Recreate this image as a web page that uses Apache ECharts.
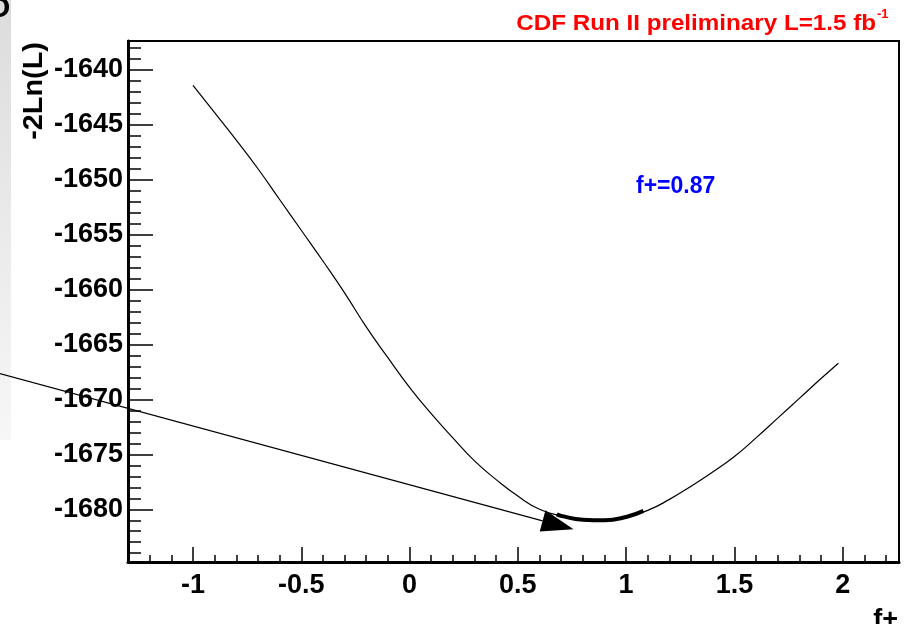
<!DOCTYPE html>
<html>
<head>
<meta charset="utf-8">
<script src="https://cdn.jsdelivr.net/npm/echarts@6/dist/echarts.min.js"></script>
<style>html,body{margin:0;padding:0;background:#fff}#c{width:909px;height:624px}</style>
</head>
<body>
<div id="c"></div>
<script>
// ---- data ----
const fPlus = [-1.0,-0.9,-0.8,-0.7,-0.6,-0.5,-0.4,-0.3,-0.2,-0.1,0.0,0.1,0.2,0.3,0.4,0.5,0.6,0.7,0.8,0.9,1.0,1.1,1.2,1.3,1.4,1.5,1.6,1.7,1.8,1.9,1.98];
const negTwoLnL = [-1641.4,-1643.9,-1646.4,-1649.0,-1651.8,-1654.6,-1657.4,-1660.3,-1663.4,-1666.2,-1668.9,-1671.3,-1673.5,-1675.6,-1677.3,-1678.8,-1680.0,-1680.6,-1680.95,-1681.0,-1680.7,-1680.1,-1679.1,-1677.9,-1676.6,-1675.2,-1673.5,-1671.7,-1669.9,-1668.1,-1666.7];
const bandF = [0.68,0.7,0.8,0.9,1.0,1.08];
const bandL = [-1680.45,-1680.6,-1680.95,-1681.0,-1680.7,-1680.15];
const arrowFrom = [-1.894, -1667.64];
const arrowTo = [0.757, -1681.82];
const xMajorTicks = [-1,-0.5,0,0.5,1,1.5,2];
const xMinorTicks = [-1.2,-1.1,-0.9,-0.8,-0.7,-0.6,-0.4,-0.3,-0.2,-0.1,0.1,0.2,0.3,0.4,0.6,0.7,0.8,0.9,1.1,1.2,1.3,1.4,1.6,1.7,1.8,1.9,2.1,2.2];
const yMajorTicks = [-1680,-1675,-1670,-1665,-1660,-1655,-1650,-1645,-1640];
const yMinorTicks = [];
for (let v = -1684; v <= -1638; v++) if (v % 5 !== 0) yMinorTicks.push(v);
const xRange = [-1.3, 2.26];
const yRange = [-1684.8, -1637.37];
const titleText = 'CDF Run II preliminary L=1.5 fb';
const fitText = 'f+=0.87';

const FONT = '"Liberation Sans", Arial, sans-serif';
const chart = echarts.init(document.getElementById('c'));
const lbl = {fontFamily: FONT, fontWeight: 'bold', fontSize: 27, color: '#000'};

function pairs(a, b) { return a.map((v, i) => [v, b[i]]); }

chart.setOption({
  animation: false,
  backgroundColor: '#fff',
  grid: {left: 128, right: 10, top: 41, bottom: 62, show: true, borderColor: '#000', borderWidth: 2, backgroundColor: 'transparent'},
  xAxis: [
    {type: 'value', min: xRange[0], max: xRange[1], position: 'bottom',
     axisLine: {onZero: false, lineStyle: {color: '#000', width: 3}},
     axisTick: {inside: true, length: 15, customValues: xMajorTicks, lineStyle: {color: '#000', width: 1.5}},
     axisLabel: {customValues: xMajorTicks, margin: 10, formatter: v => String(v), ...lbl},
     splitLine: {show: false}},
    {type: 'value', min: xRange[0], max: xRange[1], position: 'bottom',
     axisLine: {show: false, onZero: false},
     axisTick: {inside: true, length: 7, customValues: xMinorTicks, lineStyle: {color: '#000', width: 1.5}},
     axisLabel: {show: false}, splitLine: {show: false}}
  ],
  yAxis: [
    {type: 'value', min: yRange[0], max: yRange[1], position: 'left',
     axisLine: {onZero: false, lineStyle: {color: '#000', width: 3}},
     axisTick: {inside: true, length: 25, customValues: yMajorTicks, lineStyle: {color: '#000', width: 1.5}},
     axisLabel: {customValues: yMajorTicks, margin: 5, formatter: v => String(v), ...lbl},
     splitLine: {show: false}},
    {type: 'value', min: yRange[0], max: yRange[1], position: 'left',
     axisLine: {show: false, onZero: false},
     axisTick: {inside: true, length: 13, customValues: yMinorTicks, lineStyle: {color: '#000', width: 1.5}},
     axisLabel: {show: false}, splitLine: {show: false}}
  ],
  series: [
    {type: 'line', xAxisIndex: 0, yAxisIndex: 0, data: pairs(fPlus, negTwoLnL), showSymbol: false, smooth: true,
     lineStyle: {color: '#000', width: 1.2}},
    {type: 'line', xAxisIndex: 0, yAxisIndex: 0, data: pairs(bandF, bandL), showSymbol: false, smooth: true,
     lineStyle: {color: '#000', width: 4}},
    {type: 'custom', xAxisIndex: 0, yAxisIndex: 0, clip: false,
     dimensions: ['x0','y0','x1','y1'], encode: {x: [0, 2], y: [1, 3]},
     data: [[arrowFrom[0], arrowFrom[1], arrowTo[0], arrowTo[1]]],
     renderItem: function (params, api) {
       const p0 = api.coord([api.value(0), api.value(1)]);
       const p1 = api.coord([api.value(2), api.value(3)]);
       const dx = p1[0] - p0[0], dy = p1[1] - p0[1];
       const L = Math.sqrt(dx*dx + dy*dy), ux = dx / L, uy = dy / L;
       const hl = 32, hw = 11;
       const bx = p1[0] - ux*hl, by = p1[1] - uy*hl;
       return {type: 'group', children: [
         {type: 'line', shape: {x1: p0[0], y1: p0[1], x2: bx, y2: by}, style: {stroke: '#000', lineWidth: 1.2}},
         {type: 'polygon', shape: {points: [[p1[0], p1[1]], [bx - uy*hw, by + ux*hw], [bx + uy*hw, by - ux*hw]]}, style: {fill: '#000'}}
       ]};
     }}
  ],
  graphic: [
    {type: 'rect', left: 0, top: 0, shape: {width: 11, height: 440}, z: -10,
     style: {fill: new echarts.graphic.LinearGradient(0, 0, 0, 1, [{offset: 0, color: '#dcdcdc'}, {offset: 1, color: '#f7f7f7'}])}},
    {type: 'text', x: -13, y: -6, z: -5, style: {text: 'O', font: 'bold 30px ' + FONT, fill: '#000'}},
    {type: 'text', x: 34, y: 91, rotation: Math.PI / 2, scaleX: 1.03,
     style: {text: '-2Ln(L)', font: 'bold 28px ' + FONT, fill: '#000', align: 'center', verticalAlign: 'middle'}},
    {type: 'text', x: 898, y: 607,
     style: {text: 'f+', font: 'bold 27px ' + FONT, fill: '#000', align: 'right', verticalAlign: 'top'}},
    {type: 'text', x: 636, y: 187,
     style: {text: fitText, font: 'bold 23px ' + FONT, fill: '#0000ff', align: 'left', verticalAlign: 'middle'}},
    {type: 'text', x: 876, y: 24, scaleX: 1.1,
     style: {text: titleText, font: 'bold 22px ' + FONT, fill: '#ff0000', align: 'right', verticalAlign: 'middle'}},
    {type: 'text', x: 877, y: 14,
     style: {text: '-1', font: 'bold 13px ' + FONT, fill: '#ff0000', align: 'left', verticalAlign: 'middle'}}
  ]
});
</script>
</body>
</html>
